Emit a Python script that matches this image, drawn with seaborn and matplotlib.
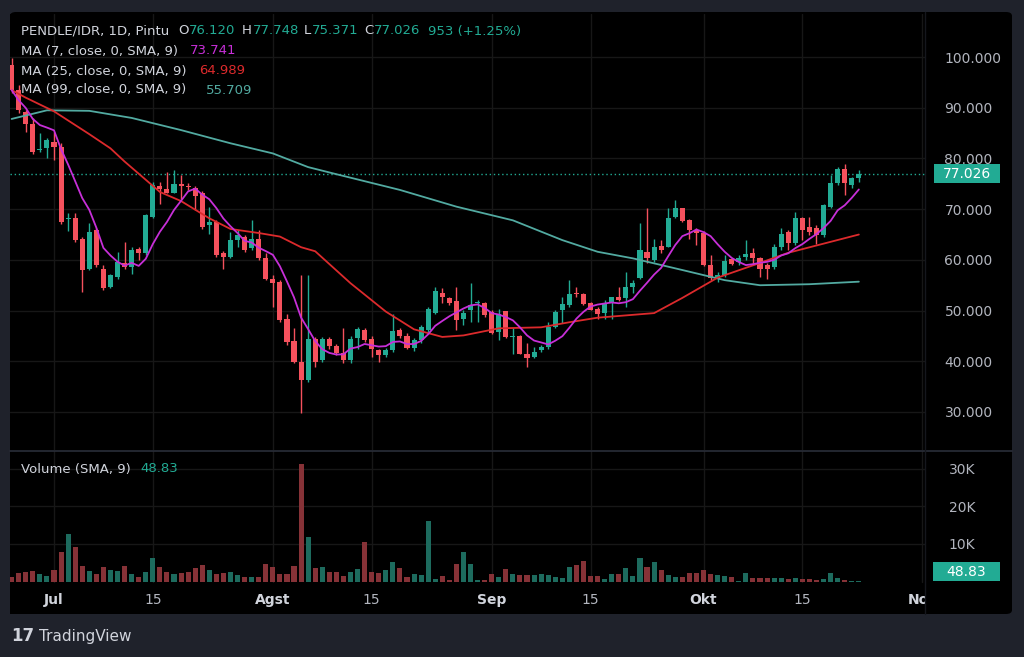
import numpy as np
import pandas as pd
import matplotlib
matplotlib.use('Agg')
import matplotlib.pyplot as plt
import matplotlib.dates as mdates
import matplotlib.transforms as mtransforms
from matplotlib.patches import FancyBboxPatch, Rectangle
import seaborn as sns

# daily PENDLE/IDR candles (values in thousands of IDR), 25 Jun - 23 Oct
start_date = '2024-06-25'
opens = [98.5, 93.5, 89.2, 86.9, 81.6, 82.0, 83.3, 82.3, 68.0, 68.2, 64.2, 58.3, 65.9, 58.3, 54.7, 56.7,
         59.3, 58.6, 62.2, 61.3, 68.5, 74.6, 73.9, 73.2, 75.0, 74.6, 74.1, 73.2, 66.8, 67.5, 61.3, 60.6,
         63.9, 64.6, 62.3, 64.2, 60.3, 56.3, 55.7, 48.4, 44.0, 39.9, 36.3, 44.3, 40.2, 44.3, 43.0, 41.6,
         40.2, 44.5, 46.2, 44.3, 42.3, 41.2, 42.2, 46.2, 45.0, 42.7, 44.2, 46.2, 49.6, 53.5, 52.4, 51.9,
         48.4, 50.1, 51.4, 51.4, 49.8, 45.8, 49.9, 44.7, 45.0, 41.5, 40.8, 42.2, 42.9, 46.7, 50.2, 51.1,
         53.5, 53.3, 51.4, 50.4, 49.6, 51.4, 52.6, 52.4, 54.7, 56.5, 61.6, 60.0, 62.7, 62.6, 68.5, 70.2,
         67.9, 65.9, 65.4, 59.0, 56.2, 57.0, 60.1, 59.6, 60.6, 61.3, 60.4, 59.0, 58.6, 62.6, 65.5, 63.3,
         68.3, 66.5, 66.3, 64.9, 70.5, 75.1, 78.0, 74.8, 76.120]
highs = [99.8, 94.5, 89.5, 88.0, 85.0, 84.0, 85.3, 83.0, 69.2, 69.2, 64.5, 67.2, 66.2, 59.0, 57.3, 61.6,
         63.6, 62.6, 62.6, 69.0, 75.4, 75.4, 77.4, 77.7, 76.7, 75.1, 74.6, 73.5, 70.5, 67.8, 61.8, 65.5,
         65.9, 64.9, 67.8, 65.9, 61.3, 57.0, 56.0, 49.4, 46.5, 57.0, 57.0, 44.8, 44.8, 44.7, 43.5, 46.5,
         45.0, 46.8, 46.5, 45.0, 42.5, 42.7, 49.4, 46.5, 45.5, 44.5, 47.1, 50.8, 54.7, 54.4, 52.7, 54.7,
         50.2, 55.4, 52.0, 51.7, 50.1, 50.4, 50.0, 46.5, 45.2, 43.6, 42.9, 43.2, 47.8, 50.1, 52.7, 56.1,
         54.6, 53.4, 51.7, 50.8, 52.1, 52.7, 54.7, 57.7, 56.0, 67.2, 70.2, 64.2, 63.9, 70.2, 71.8, 70.2,
         68.0, 66.2, 65.6, 60.9, 57.7, 60.9, 60.4, 61.0, 63.9, 62.3, 60.6, 59.3, 63.2, 66.2, 65.9, 69.5,
         68.5, 68.5, 66.9, 71.1, 76.7, 78.4, 79.0, 76.4, 77.748]
lows = [93.0, 89.0, 85.3, 80.8, 81.3, 80.0, 79.7, 67.0, 65.6, 63.5, 53.7, 58.0, 58.5, 54.0, 54.4, 56.3,
        58.3, 57.3, 60.0, 61.0, 68.2, 71.1, 73.1, 73.2, 72.1, 73.8, 69.8, 66.0, 65.2, 60.5, 58.3, 60.3,
        62.6, 61.6, 61.9, 60.0, 56.0, 50.8, 47.8, 43.2, 39.6, 29.7, 36.0, 38.9, 39.9, 42.5, 41.2, 39.6,
        39.6, 42.5, 43.9, 40.9, 39.9, 40.9, 41.9, 44.5, 42.5, 42.1, 43.7, 45.8, 49.4, 51.4, 51.1, 46.1,
        47.1, 47.8, 47.8, 48.8, 45.3, 44.2, 44.5, 41.5, 41.4, 38.9, 40.6, 41.9, 42.5, 46.5, 47.5, 50.8,
        52.7, 51.1, 50.1, 48.4, 48.4, 48.4, 51.8, 50.8, 53.4, 56.2, 59.3, 59.6, 61.3, 62.6, 68.2, 67.5,
        64.2, 62.9, 58.7, 56.0, 55.7, 56.7, 59.0, 59.0, 60.0, 59.0, 56.7, 56.3, 58.3, 61.9, 61.9, 62.9,
        63.9, 64.9, 63.2, 64.6, 70.2, 74.8, 72.8, 74.1, 75.371]
closes = [93.5, 89.5, 86.9, 81.3, 81.8, 83.6, 82.3, 67.5, 68.3, 63.9, 58.0, 65.5, 59.0, 54.4, 57.0, 59.6,
          58.5, 61.9, 61.3, 68.8, 74.8, 73.9, 73.2, 75.0, 74.6, 74.3, 72.6, 66.5, 67.5, 61.0, 60.6, 63.9,
          64.9, 61.9, 64.2, 60.3, 56.3, 55.5, 48.1, 43.9, 39.9, 36.3, 44.3, 39.9, 44.3, 43.0, 41.6, 40.2,
          44.3, 46.3, 44.2, 42.5, 41.2, 42.2, 46.0, 45.0, 42.7, 44.2, 46.8, 50.4, 53.9, 52.7, 51.4, 48.1,
          49.6, 51.1, 51.7, 49.1, 45.5, 49.4, 44.7, 45.0, 41.5, 40.6, 41.9, 42.9, 46.7, 49.8, 51.2, 53.2,
          53.2, 51.3, 50.2, 49.4, 51.3, 52.6, 52.1, 54.7, 55.5, 61.9, 60.3, 62.6, 61.9, 68.2, 70.2, 67.7,
          65.9, 65.4, 59.0, 56.4, 57.0, 59.8, 59.2, 60.3, 61.1, 60.3, 58.3, 58.3, 62.6, 65.2, 63.3, 68.2,
          65.9, 65.5, 65.0, 70.8, 75.1, 78.0, 75.1, 76.2, 77.026]
# volume in thousands
volumes = [1.33, 2.21, 2.57, 2.83, 2.04, 1.50, 3.10, 7.88, 12.57, 9.29, 4.16, 2.83, 1.95, 3.98, 3.10, 2.92,
           4.16, 1.95, 1.33, 2.48, 6.37, 3.81, 2.48, 1.95, 2.21, 2.65, 3.72, 4.42, 3.10, 1.95, 2.39, 2.65,
           1.77, 1.33, 1.33, 1.15, 4.60, 3.98, 2.04, 2.04, 4.16, 31.15, 11.77, 3.54, 3.81, 2.48, 2.48, 1.50,
           2.65, 3.27, 10.62, 2.48, 2.39, 3.10, 5.13, 3.54, 1.33, 2.04, 1.77, 16.19, 0.80, 1.50, 0.44, 4.60,
           7.79, 4.69, 0.44, 0.44, 2.04, 1.33, 3.45, 2.04, 1.77, 1.77, 1.77, 1.95, 1.77, 1.33, 0.88, 3.81,
           4.42, 5.49, 1.50, 1.50, 0.62, 2.04, 2.04, 3.72, 1.50, 6.37, 3.98, 5.31, 3.10, 1.77, 1.33, 1.15,
           2.21, 2.21, 3.10, 2.04, 1.77, 1.59, 1.15, 0.27, 2.39, 0.88, 0.88, 0.88, 0.88, 0.88, 0.62, 0.88,
           0.71, 0.62, 0.44, 0.62, 2.39, 1.06, 0.44, 0.27, 0.27]

# MA25 and MA99 (days after 1 Jul)
ma25_days = [-6, -4, 0, 3, 5, 8, 10, 12, 15, 18, 22, 25, 29, 32, 35, 37, 42, 47, 51, 55, 58, 63, 69,
             73, 77, 85, 89, 94, 100, 104, 109, 114]
ma25_vals = [93.5, 92.0, 89.3, 86.6, 84.8, 82.0, 79.4, 77.0, 73.4, 71.6, 68.2, 66.1, 65.3, 64.6, 62.5,
             61.7, 55.4, 49.8, 46.3, 44.8, 45.1, 46.5, 46.7, 47.7, 48.6, 49.5, 52.5, 56.5, 59.4, 61.4,
             63.2, 65.0]
ma99_days = [-6, -1, 5, 11, 18, 25, 31, 36, 40, 49, 57, 65, 72, 77, 82, 89, 95, 100, 107, 114]
ma99_vals = [87.8, 89.5, 89.4, 88.0, 85.6, 83.0, 81.0, 78.3, 76.9, 73.8, 70.5, 67.8, 63.9, 61.6,
             60.3, 58.0, 56.0, 55.0, 55.2, 55.7]

price_ticks = [30, 40, 50, 60, 70, 80, 90, 100]
vol_ticks = [10, 20, 30]
time_ticks = ['2024-07-01', '2024-07-15', '2024-08-01', '2024-08-15', '2024-09-01',
              '2024-09-15', '2024-10-01', '2024-10-15', '2024-11-01']
time_labels = ['Jul', '15', 'Agst', '15', 'Sep', '15', 'Okt', '15', 'Nov']

GREEN = '#22ab94'
RED = '#f5515d'
VGREEN = '#1d6b5e'
VRED = '#863237'
MA7_C = '#c72fd8'
MA25_C = '#dc2a2c'
MA99_C = '#52aaa1'
TXT = '#d1d4dc'
AXT = '#b2b5be'
GRID = '#171717'
SEP = '#2a2e39'
OUTER = '#1f222b'

sns.set_style('dark', rc={'axes.facecolor': 'black', 'figure.facecolor': OUTER})
plt.rcParams['font.family'] = ['DejaVu Sans']

base = pd.Timestamp('2024-07-01')
df = pd.DataFrame({
    'date': pd.date_range(start_date, periods=len(closes), freq='D'),
    'open': opens, 'high': highs, 'low': lows, 'close': closes, 'volume': volumes,
})
df['ma7'] = df['close'].rolling(7, min_periods=1).mean()
ma25 = pd.DataFrame({'date': base + pd.to_timedelta(ma25_days, unit='D'), 'ma': ma25_vals})
ma99 = pd.DataFrame({'date': base + pd.to_timedelta(ma99_days, unit='D'), 'ma': ma99_vals})
up = df['close'] >= df['open']

W, H = 1024, 657
fig = plt.figure(figsize=(W / 100, H / 100), dpi=100)
fig.patch.set_facecolor(OUTER)
fig.patches.append(FancyBboxPatch((10 / W, 1 - 614 / H), 1002 / W, 602 / H,
                                  boxstyle='round,pad=0,rounding_size=0.006',
                                  transform=fig.transFigure, fc='black', ec='none', zorder=-5))


def px_axes(left, top, right, bottom):
    a = fig.add_axes([left / W, 1 - bottom / H, (right - left) / W, (bottom - top) / H])
    a.set_zorder(1)
    return a


def ftext(px, py, s, **kw):
    return fig.text(px / W, 1 - py / H, s, va='center', zorder=5, **kw)


ax = px_axes(10, 14, 925, 450)
axv = px_axes(10, 451, 925, 614)
x0 = mdates.date2num(base)
for a in (ax, axv):
    a.set_facecolor('black')
    a.set_xlim(x0 - 6.23, x0 + 123.37)
    a.grid(False)
    for s in a.spines.values():
        s.set_visible(False)
    a.set_xticks([])

# price pane
ax.set_ylim(22.5, 108.5)
for t in time_ticks:
    ax.axvline(pd.Timestamp(t), color=GRID, lw=1, zorder=1)
for v in price_ticks:
    ax.axhline(v, color=GRID, lw=1, zorder=1)

colors = np.where(up, GREEN, RED)
ax.vlines(df['date'], df['low'], df['high'], colors=colors, lw=1, zorder=3)
body = np.maximum((df['close'] - df['open']).abs(), 0.2)
ax.bar(df['date'], body, bottom=np.minimum(df['open'], df['close']), width=0.72,
       color=colors, linewidth=0, zorder=4)

sns.lineplot(data=ma99, x='date', y='ma', ax=ax, color=MA99_C, lw=1.3, zorder=5)
sns.lineplot(data=ma25, x='date', y='ma', ax=ax, color=MA25_C, lw=1.3, zorder=5)
sns.lineplot(data=df, x='date', y='ma7', ax=ax, color=MA7_C, lw=1.3, zorder=6)
ax.axhline(closes[-1], color=GREEN, ls=(0, (1, 2)), lw=1, zorder=2)
ax.set_xlabel('')
ax.set_ylabel('')
ax.set_xticks([])
ax.set_xlim(x0 - 6.23, x0 + 123.37)

ax.yaxis.tick_right()
ax.set_yticks(price_ticks)
ax.set_yticklabels([f'{v:.3f}' for v in price_ticks])
ax.tick_params(axis='y', length=0, pad=14, labelsize=10, labelcolor=AXT)

blend = mtransforms.blended_transform_factory(fig.transFigure, ax.transData)
ax.add_artist(Rectangle((934 / W, closes[-1] - 1.85), 66 / W, 3.7, transform=blend,
                        fc=GREEN, ec='none', clip_on=False, zorder=10))
ax.text(967 / W, closes[-1], f'{closes[-1]:.3f}', transform=blend, ha='center', va='center',
        color='white', fontsize=10, clip_on=False, zorder=11)

# volume pane
axv.set_ylim(-8.57, 34.67)
lo, hi = axv.get_ylim()
for t in time_ticks:
    axv.axvline(pd.Timestamp(t), ymin=(0 - lo) / (hi - lo), color=GRID, lw=1, zorder=1)
for v in vol_ticks:
    axv.axhline(v, color=GRID, lw=1, zorder=1)
axv.bar(df['date'], df['volume'], width=0.72, color=np.where(up, VGREEN, VRED),
        linewidth=0, zorder=3)
axv.yaxis.tick_right()
axv.set_yticks(vol_ticks)
axv.set_yticklabels([f'{v}K' for v in vol_ticks])
axv.tick_params(axis='y', length=0, pad=17, labelsize=10, labelcolor=AXT)

blendv = mtransforms.blended_transform_factory(fig.transFigure, axv.transData)
axv.add_artist(Rectangle((933 / W, 0.1), 67 / W, 5.0, transform=blendv,
                         fc=GREEN, ec='none', clip_on=False, zorder=10))
axv.text(966.5 / W, 2.6, '48.83', transform=blendv, ha='center', va='center',
         color='white', fontsize=10, clip_on=False, zorder=11)

# time axis labels (clipped at the price scale edge like the original)
for t, lab in zip(time_ticks, time_labels):
    bold = not lab.isdigit()
    axv.text(pd.Timestamp(t), -4.85, lab, ha='center', va='center', fontsize=10,
             color=TXT if bold else AXT, fontweight='bold' if bold else 'normal', clip_on=True)

# separators
fig.add_artist(plt.Line2D([10 / W, 1012 / W], [1 - 450.5 / H] * 2, color=SEP, lw=1.2, zorder=3))
fig.add_artist(plt.Line2D([925 / W] * 2, [1 - 614 / H, 1 - 12 / H], color='#15171d', lw=1, zorder=3))

# legend header
fs = 9.5
ftext(21, 31, 'PENDLE/IDR, 1D, Pintu', color=TXT, fontsize=fs)
for px, s, c in [(178, 'O', TXT), (189, '76.120', GREEN), (242, 'H', TXT), (253, '77.748', GREEN),
                 (304, 'L', TXT), (312, '75.371', GREEN), (364, 'C', TXT), (374, '77.026', GREEN),
                 (428, '953 (+1.25%)', GREEN)]:
    ftext(px, 31, s, color=c, fontsize=fs)
ftext(21, 51, 'MA (7, close, 0, SMA, 9)', color=TXT, fontsize=fs)
ftext(190, 51, '73.741', color=MA7_C, fontsize=fs)
ftext(21, 71, 'MA (25, close, 0, SMA, 9)', color=TXT, fontsize=fs)
ftext(199, 71, '64.989', color=MA25_C, fontsize=fs)
ftext(21, 90, 'MA (99, close, 0, SMA, 9)', color=TXT, fontsize=fs)
ftext(206, 90, '55.709', color=MA99_C, fontsize=fs)
ftext(21, 469, 'Volume (SMA, 9)', color=TXT, fontsize=fs)
ftext(140, 469, '48.83', color=GREEN, fontsize=fs)

# footer
ftext(11, 636, '17', color=TXT, fontsize=12, fontweight='heavy')
ftext(39, 636, 'TradingView', color=TXT, fontsize=11)

fig.savefig('out.png', dpi=100, facecolor=OUTER)
